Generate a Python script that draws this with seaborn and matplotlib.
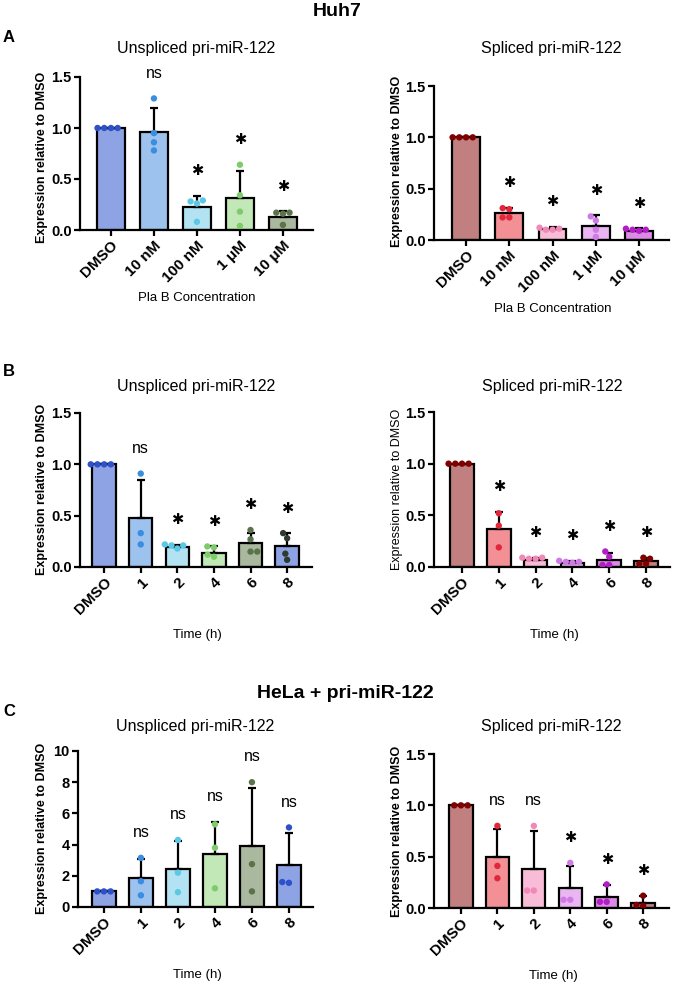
import numpy as np
import pandas as pd
import matplotlib
matplotlib.use("Agg")
import matplotlib.pyplot as plt
import seaborn as sns

sns.set_theme(style="ticks")
plt.rcParams["font.family"] = ["Liberation Sans", "DejaVu Sans"]

# ---------------- data ----------------
conc_cats = ["DMSO", "10 nM", "100 nM", "1 μM", "10 μM"]
time_cats = ["DMSO", "1", "2", "4", "6", "8"]

# Panel A - Huh7, Pla B concentration
a_unspl_mean = [1.0, 0.96, 0.225, 0.31, 0.125]
a_unspl_sd = [0.0, 0.24, 0.11, 0.27, 0.06]
a_unspl_pts = [[1, 1, 1, 1], [1.29, 0.95, 0.86, 0.78], [0.26, 0.29, 0.28, 0.08],
               [0.64, 0.34, 0.18, 0.04], [0.17, 0.16, 0.17, 0.05]]
a_unspl_sig = ["", "ns", "*", "*", "*"]

a_spl_mean = [1.0, 0.26, 0.104, 0.14, 0.09]
a_spl_sd = [0.0, 0.055, 0.026, 0.10, 0.025]
a_spl_pts = [[1, 1, 1, 1], [0.31, 0.30, 0.22, 0.22], [0.12, 0.10, 0.11, 0.10],
             [0.23, 0.19, 0.10, 0.03], [0.11, 0.10, 0.10, 0.09]]
a_spl_sig = ["", "*", "*", "*", "*"]

# Panel B - Huh7, time course
b_unspl_mean = [1.0, 0.475, 0.19, 0.14, 0.23, 0.20]
b_unspl_sd = [0.0, 0.375, 0.02, 0.06, 0.105, 0.13]
b_unspl_pts = [[1, 1, 1, 1], [0.91, 0.33, 0.22], [0.21, 0.22, 0.21, 0.18],
               [0.20, 0.19, 0.12, 0.10], [0.36, 0.27, 0.15, 0.15], [0.33, 0.28, 0.13, 0.07]]
b_unspl_sig = ["", "ns", "*", "*", "*", "*"]

b_spl_mean = [1.0, 0.366, 0.07, 0.04, 0.07, 0.055]
b_spl_sd = [0.0, 0.17, 0.017, 0.015, 0.07, 0.03]
b_spl_pts = [[1, 1, 1, 1], [0.52, 0.40, 0.19], [0.08, 0.09, 0.09, 0.08],
             [0.05, 0.06, 0.04, 0.05], [0.15, 0.10, 0.02, 0.02], [0.09, 0.08, 0.03, 0.03]]
b_spl_sig = ["", "*", "*", "*", "*", "*"]

# Panel C - HeLa + pri-miR-122, time course
c_unspl_mean = [1.0, 1.86, 2.46, 3.4, 3.91, 2.69]
c_unspl_sd = [0.0, 1.24, 1.74, 2.07, 3.69, 2.08]
c_unspl_pts = [[1, 1, 1], [3.15, 1.65, 0.75], [4.3, 2.2, 0.95],
               [5.3, 3.8, 1.2], [8.0, 2.75, 1.0], [5.1, 1.55, 1.6]]
c_unspl_sig = ["", "ns", "ns", "ns", "ns", "ns"]

c_spl_mean = [1.0, 0.496, 0.378, 0.196, 0.11, 0.05]
c_spl_sd = [0.0, 0.27, 0.37, 0.214, 0.11, 0.07]
c_spl_pts = [[1, 1, 1], [0.80, 0.41, 0.29], [0.80, 0.17, 0.17],
             [0.44, 0.08, 0.08], [0.23, 0.06, 0.06], [0.12, 0.02, 0.03]]
c_spl_sig = ["", "ns", "ns", "*", "*", "*"]

# colours
blue_bar = ["#8EA3E3", "#9DC2EE", "#B3E3F3", "#C2E8B8", "#A9B89E", "#8EA3E3"]
blue_pt_b = ["#2E50C8", "#3A8DE0", "#5CC8E6", "#7CCD6A", "#5B7349", "#2F3A2F"]
blue_pt_c = ["#2E50C8", "#3A8DE0", "#5CC8E6", "#7CCD6A", "#5B7349", "#2E50C8"]
red_bar = ["#C17F80", "#F29096", "#F9BCD6", "#EAB6F2", "#DD8AE6", "#C17F80"]
red_pt = ["#800000", "#E0283A", "#F088B8", "#D07AE6", "#B41CC8", "#800000"]

# ---------------- figure ----------------
W, H = 674, 986
fig = plt.figure(figsize=(W / 100, H / 100), dpi=100)


def fx(px):
    return px / W


def fy(py):
    return 1 - py / H


def draw(rect, xlim, ylim, yticks, yfmt, cats, means, sds, pts, bar_cols, pt_cols,
         sig, title, title_y, xlabel, xl_pos, yl_pos, yl_weight="bold"):
    l, t, r, b = rect
    ax = fig.add_axes([fx(l), fy(b), (r - l) / W, (b - t) / H])
    n = len(cats)
    bars = pd.DataFrame({"cat": cats, "mean": means})
    sns.barplot(data=bars, x="cat", y="mean", hue="cat", order=cats, hue_order=cats,
                palette=dict(zip(cats, bar_cols[:n])), legend=False, width=0.64,
                saturation=1, edgecolor="black", linewidth=1.6, errorbar=None,
                ax=ax, zorder=2)
    x = np.arange(n)
    ax.errorbar(x, means, yerr=[np.zeros(n), sds], fmt="none", ecolor="black",
                elinewidth=1.6, capsize=2.8, capthick=1.6, zorder=3)
    rows = [(c, v) for c, vs in zip(cats, pts) for v in vs]
    pdf = pd.DataFrame(rows, columns=["cat", "value"])
    sns.swarmplot(data=pdf, x="cat", y="value", hue="cat", order=cats, hue_order=cats,
                  palette=dict(zip(cats, pt_cols[:n])), size=4.6, legend=False,
                  linewidth=0, ax=ax, zorder=4)
    for i, s in enumerate(sig):
        if not s:
            continue
        top = max(max(pts[i]), means[i] + sds[i])
        y = top + 0.163 * ylim[1]
        if s == "*":
            ax.text(i, y, "✱", ha="center", va="center", fontsize=10.5,
                    family=["DejaVu Sans"], color="black")
        else:
            ax.text(i, y, s, ha="center", va="center", fontsize=11.5, color="black")
    ax.set_xlim(xlim)
    ax.set_ylim(ylim)
    ax.set_yticks(yticks)
    ax.set_yticklabels([yfmt.format(v) for v in yticks])
    ax.set_xticks(x)
    ax.set_xticklabels(cats, rotation=45, ha="right", rotation_mode="anchor")
    for lab in ax.get_xticklabels():
        lab.set_fontweight("bold")
        lab.set_fontsize(11)
        lab.set_color("black")
    for lab in ax.get_yticklabels():
        lab.set_fontweight("bold")
        lab.set_fontsize(10.5)
        lab.set_color("black")
    sns.despine(ax=ax)
    for sp in ("left", "bottom"):
        ax.spines[sp].set_linewidth(1.6)
        ax.spines[sp].set_color("black")
    ax.tick_params(length=4, width=1.6, pad=2, colors="black")
    ax.set_xlabel(xlabel, fontsize=9.5, color="black")
    ax.xaxis.set_label_coords(fx(xl_pos[0]), fy(xl_pos[1]), transform=fig.transFigure)
    ax.xaxis.label.set_va("center")
    ax.set_ylabel("Expression relative to DMSO", fontsize=9, fontweight=yl_weight,
                  color="black")
    ax.yaxis.set_label_coords(fx(yl_pos[0]), fy(yl_pos[1]), transform=fig.transFigure)
    ax.yaxis.label.set_va("center")
    fig.text(fx((l + r) / 2), fy(title_y), title, ha="center", va="center",
             fontsize=11.5, color="black")
    return ax


t15 = [0, 0.5, 1.0, 1.5]

draw((80, 77, 313, 230), (-0.72, 4.70), (0, 1.5), t15, "{:.1f}", conc_cats,
     a_unspl_mean, a_unspl_sd, a_unspl_pts, blue_bar, blue_pt_b, a_unspl_sig,
     "Unspliced pri-miR-122", 48, "Pla B Concentration", (197, 298), (42, 157))
draw((434, 86, 669, 240), (-0.74, 4.69), (0, 1.5), t15, "{:.1f}", conc_cats,
     a_spl_mean, a_spl_sd, a_spl_pts, red_bar, red_pt, a_spl_sig,
     "Spliced pri-miR-122", 48, "Pla B Concentration", (553, 309), (397, 161))

draw((80, 413, 312, 567), (-0.66, 5.68), (0, 1.5), t15, "{:.1f}", time_cats,
     b_unspl_mean, b_unspl_sd, b_unspl_pts, blue_bar, blue_pt_b, b_unspl_sig,
     "Unspliced pri-miR-122", 387, "Time (h)", (197, 635), (42, 489))
draw((434, 412, 670, 567), (-0.76, 5.65), (0, 1.5), t15, "{:.1f}", time_cats,
     b_spl_mean, b_spl_sd, b_spl_pts, red_bar, red_pt, b_spl_sig,
     "Spliced pri-miR-122", 387, "Time (h)", (554, 635), (397, 489), yl_weight="normal")

draw((78, 751, 313, 907), (-0.70, 5.65), (0, 10), [0, 2, 4, 6, 8, 10], "{:.0f}", time_cats,
     c_unspl_mean, c_unspl_sd, c_unspl_pts, blue_bar, blue_pt_c, c_unspl_sig,
     "Unspliced pri-miR-122", 727, "Time (h)", (197, 975), (42, 828))
draw((434, 754, 669, 908), (-0.74, 5.71), (0, 1.5), t15, "{:.1f}", time_cats,
     c_spl_mean, c_spl_sd, c_spl_pts, red_bar, red_pt, c_spl_sig,
     "Spliced pri-miR-122", 727, "Time (h)", (553, 976), (397, 831))

fig.text(fx(337), fy(12), "Huh7", ha="center", va="center", fontsize=14,
         fontweight="bold", color="black")
fig.text(fx(345), fy(693), "HeLa + pri-miR-122", ha="center", va="center", fontsize=14,
         fontweight="bold", color="black")
for letter, ypx in (("A", 38), ("B", 372), ("C", 712)):
    fig.text(fx(3), fy(ypx), letter, ha="left", va="center", fontsize=12,
             fontweight="bold", color="black")

fig.savefig("out.png", dpi=100, facecolor="white")
